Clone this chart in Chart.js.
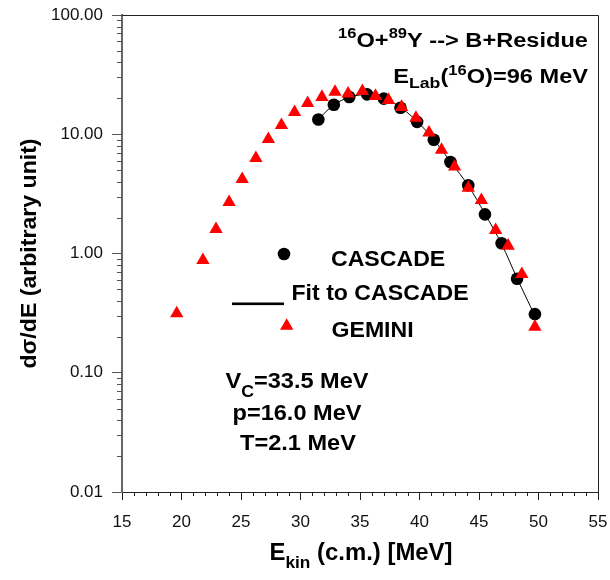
<!DOCTYPE html>
<html><head><meta charset="utf-8">
<script src="https://cdn.jsdelivr.net/npm/chart.js@4/dist/chart.umd.min.js"></script>
<style>html,body{margin:0;padding:0;background:#fff}#wrap{width:610px;height:580px;position:relative}</style>
</head><body><div id="wrap"><canvas id="c"></canvas></div>
<script>
// ---- data ----
const cascadeE = [31.5, 32.8, 34.1, 35.6, 37.0, 38.4, 39.8, 41.2, 42.6, 44.1, 45.5, 46.9, 48.2, 49.7];
const cascadeY = [13.3, 17.7, 20.5, 21.6, 19.9, 16.7, 12.7, 9.0, 5.85, 3.73, 2.13, 1.22, 0.615, 0.31];
const fitE = [31.5, 32.8, 34.1, 35.6, 37.0, 38.4, 39.8, 41.2, 42.6, 44.1, 45.5, 46.9, 48.2, 49.7];
const fitY = [13.4, 17.6, 20.4, 21.5, 20.0, 16.8, 12.8, 9.0, 5.9, 3.7, 2.15, 1.2, 0.62, 0.30];
const geminiE = [19.6, 21.8, 22.9, 24.0, 25.1, 26.25, 27.3, 28.4, 29.5, 30.6, 31.8, 32.9, 34.0, 35.2, 36.3, 37.4, 38.5, 39.7, 40.8, 41.85, 42.95, 44.1, 45.2, 46.4, 47.45, 48.6, 49.7];
const geminiY = [0.315, 0.88, 1.60, 2.69, 4.2, 6.3, 9.1, 11.9, 15.3, 18.2, 20.5, 22.6, 21.9, 23.0, 20.9, 19.3, 16.9, 13.7, 10.3, 7.4, 5.35, 3.55, 2.8, 1.57, 1.16, 0.67, 0.242];
const xTickValues = [15, 20, 25, 30, 35, 40, 45, 50, 55];
const yTickValues = [0.01, 0.1, 1, 10, 100];
const seriesNames = ['CASCADE', 'Fit to CASCADE', 'GEMINI'];

const FONT = "'Liberation Sans', Arial, Helvetica, sans-serif";

function toPts(xs, ys){ return xs.map((x,i)=>({x:x, y:ys[i]})); }

function fontFor(s, size){ return 'bold ' + (size*(s.r||1)).toFixed(1) + 'px ' + FONT; }
function drawRich(ctx, segs, x, y, size, align, sx){
  let w = 0;
  for (const s of segs){ ctx.font = fontFor(s,size); w += ctx.measureText(s.t).width; }
  let start = align==='right' ? x - w*sx : (align==='center' ? x - w*sx/2 : x);
  ctx.save();
  ctx.translate(start, y);
  ctx.scale(sx, 1);
  ctx.fillStyle = '#000';
  ctx.textBaseline = 'alphabetic';
  ctx.textAlign = 'left';
  let cx = 0;
  for (const s of segs){
    ctx.font = fontFor(s,size);
    ctx.fillText(s.t, cx, s.dy||0);
    cx += ctx.measureText(s.t).width;
  }
  ctx.restore();
}

const decor = {
  id: 'decor',
  afterDraw(chart){
    const ctx = chart.ctx, ca = chart.chartArea;
    const xs = chart.scales.x, ys = chart.scales.y;
    ctx.save();
    // frame top and right
    ctx.strokeStyle = '#222'; ctx.lineWidth = 1;
    ctx.beginPath();
    ctx.moveTo(ca.left, ca.top+0.5); ctx.lineTo(ca.right+0.5, ca.top+0.5);
    ctx.lineTo(ca.right+0.5, ca.bottom);
    ctx.stroke();
    // minor ticks y
    ctx.strokeStyle = '#555'; ctx.lineWidth = 1;
    ctx.beginPath();
    for (let d = -2; d < 2; d++){
      for (let k = 2; k <= 9; k++){
        const py = Math.round(ys.getPixelForValue(k*Math.pow(10,d))) + 0.5;
        ctx.moveTo(ca.left - 5, py); ctx.lineTo(ca.left, py);
      }
    }
    ctx.stroke();
    // minor ticks x
    ctx.strokeStyle = '#222';
    ctx.beginPath();
    for (let v = 16; v < 55; v++){
      if (v % 5 === 0) continue;
      const px = Math.round(xs.getPixelForValue(v)) + 0.5;
      ctx.moveTo(px, ca.bottom); ctx.lineTo(px, ca.bottom + 4);
    }
    ctx.stroke();

    // titles in the plot
    drawRich(ctx, [{t:'16', r:0.7, dy:-8.4}, {t:'O+'}, {t:'89', r:0.7, dy:-8.4}, {t:'Y --> B+Residue'}], 588, 46.7, 20, 'right', 1.18);
    drawRich(ctx, [{t:'E'}, {t:'Lab', r:0.75, dy:5}, {t:'('}, {t:'16', r:0.7, dy:-8.4}, {t:'O)=96 MeV'}], 588, 83.3, 20, 'right', 1.18);

    // legend
    ctx.fillStyle = '#000';
    ctx.beginPath(); ctx.arc(284, 254, 6.3, 0, Math.PI*2); ctx.fill();
    drawRich(ctx, [{t:seriesNames[0]}], 331, 266, 22, 'left', 1.05);
    ctx.fillStyle = '#000';
    ctx.fillRect(232, 302.5, 52, 2.6);
    drawRich(ctx, [{t:seriesNames[1]}], 291.5, 300, 22, 'left', 1.05);
    ctx.fillStyle = '#ff0000';
    const tr = 7.7, tx = 286.7, ty = 326;
    ctx.beginPath();
    ctx.moveTo(tx, ty - tr);
    ctx.lineTo(tx + tr*Math.sin(2*Math.PI/3), ty - tr*Math.cos(2*Math.PI/3));
    ctx.lineTo(tx + tr*Math.sin(4*Math.PI/3), ty - tr*Math.cos(4*Math.PI/3));
    ctx.closePath(); ctx.fill();
    drawRich(ctx, [{t:seriesNames[2]}], 331.5, 336.7, 22, 'left', 1.05);

    // fit parameters
    drawRich(ctx, [{t:'V'}, {t:'C', r:0.75, dy:8.4}, {t:'=33.5 MeV'}], 297, 388.3, 22, 'center', 1.07);
    drawRich(ctx, [{t:'p=16.0 MeV'}], 297, 420, 22, 'center', 1.07);
    drawRich(ctx, [{t:'T=2.1 MeV'}], 298, 450, 22, 'center', 1.07);

    // axis titles
    drawRich(ctx, [{t:'E'}, {t:'kin', r:0.72, dy:8}, {t:' (c.m.) [MeV]'}], 361, 560, 23, 'center', 1.04);
    ctx.save();
    ctx.translate(36, (ca.top+ca.bottom)/2);
    ctx.rotate(-Math.PI/2);
    drawRich(ctx, [{t:'d\u03C3/dE (arbitrary unit)'}], 0, 0, 22, 'center', 1.05);
    ctx.restore();
    ctx.restore();
  }
};

new Chart(document.getElementById('c'), {
  type: 'scatter',
  data: {
    datasets: [
      { label: seriesNames[2], data: toPts(geminiE, geminiY), order: 0,
        pointStyle: 'triangle', pointRadius: 7.7, pointHoverRadius: 7.7,
        backgroundColor: '#ff0000', borderColor: '#ff0000', pointBorderWidth: 0, showLine: false },
      { label: seriesNames[0], data: toPts(cascadeE, cascadeY), order: 1,
        pointStyle: 'circle', pointRadius: 6.3, pointHoverRadius: 6.3,
        backgroundColor: '#000', borderColor: '#000', pointBorderWidth: 0, showLine: false },
      { label: seriesNames[1], data: toPts(fitE, fitY), order: 2,
        showLine: true, pointRadius: 0, borderColor: '#000', borderWidth: 1, tension: 0.35, fill: false }
    ]
  },
  options: {
    responsive: true, maintainAspectRatio: false, animation: false,
    layout: { padding: { top: 15, right: 12, left: 0, bottom: 0 } },
    plugins: { legend: { display: false }, tooltip: { enabled: false } },
    scales: {
      x: {
        type: 'linear', min: 15, max: 55,
        afterBuildTicks: s => { s.ticks = xTickValues.map(v => ({ value: v })); },
        afterFit: s => { s.height = 88; s.paddingLeft = 0; s.paddingRight = 0; },
        grid: { drawOnChartArea: false, tickLength: 8, tickColor: '#222', tickWidth: 1 },
        border: { color: '#222', width: 1 },
        ticks: { color: '#111', padding: 12, maxRotation: 0, autoSkip: false,
                 font: { family: FONT, size: 17 }, callback: v => String(v) }
      },
      y: {
        type: 'logarithmic', min: 0.01, max: 100,
        afterBuildTicks: s => { s.ticks = yTickValues.map(v => ({ value: v })); },
        afterFit: s => { s.width = 122; s.paddingTop = 0; s.paddingBottom = 0; },
        grid: { drawOnChartArea: false, tickLength: 10, tickColor: '#555', tickWidth: 1 },
        border: { color: '#666', width: 2 },
        ticks: { color: '#111', padding: 9, autoSkip: false,
                 font: { family: FONT, size: 17 }, callback: v => Number(v).toFixed(2) }
      }
    }
  },
  plugins: [decor]
});
</script>
</body></html>
